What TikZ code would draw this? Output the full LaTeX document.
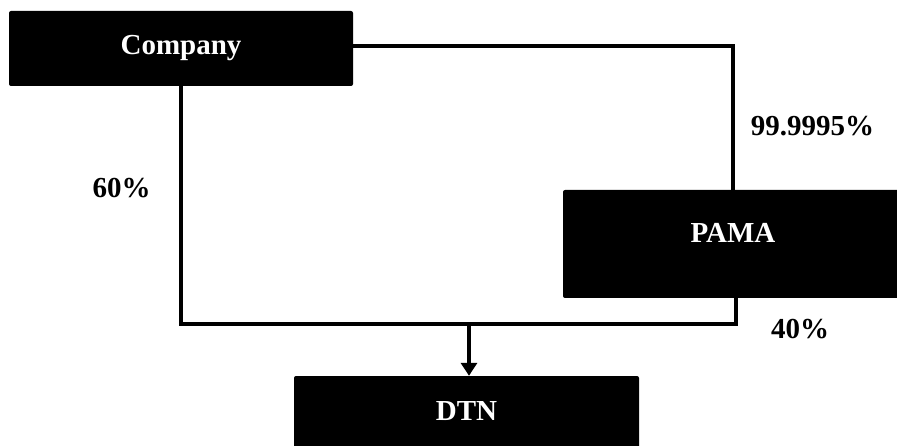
\documentclass[tikz,border=0pt]{standalone}
\usepackage{fontspec}
\setmainfont{Liberation Serif}
\usetikzlibrary{arrows.meta}
\begin{document}
\begin{tikzpicture}[x=1pt,y=-1pt,
  box/.style={fill=black,text=white,rounded corners=2pt,inner sep=0pt,
    font=\fontsize{29}{34}\selectfont\bfseries},
  lbl/.style={inner sep=0pt,font=\fontsize{29}{34}\selectfont\bfseries},
  conn/.style={line width=3.2pt,line join=miter}]
\useasboundingbox (0,0) rectangle (897,446);
\node[box,minimum width=344pt,text height=44pt,text depth=31pt] (company) at (181,48.5) {Company};
\node[box,minimum width=340pt,text height=53pt,text depth=55pt] (pama) at (733,244) {PAMA};
\node[box,minimum width=345pt,text height=44pt,text depth=43pt] (dtn) at (466.5,419.5) {DTN};
\coordinate (junc) at (469,324);
\draw[conn] ([yshift=2.5pt]company.east) -| (pama.north);
\draw[conn] (company.south) |- (junc) -| ([xshift=3pt]pama.south);
\draw[conn,-{Triangle[width=16pt,length=13pt]}] (junc) -- (junc |- dtn.north);
\node[lbl] (l60) at (121.5,188) {60\%};
\node[lbl] (l99) at (812.5,126) {99.9995\%};
\node[lbl] (l40) at (800,329) {40\%};
\end{tikzpicture}
\end{document}
